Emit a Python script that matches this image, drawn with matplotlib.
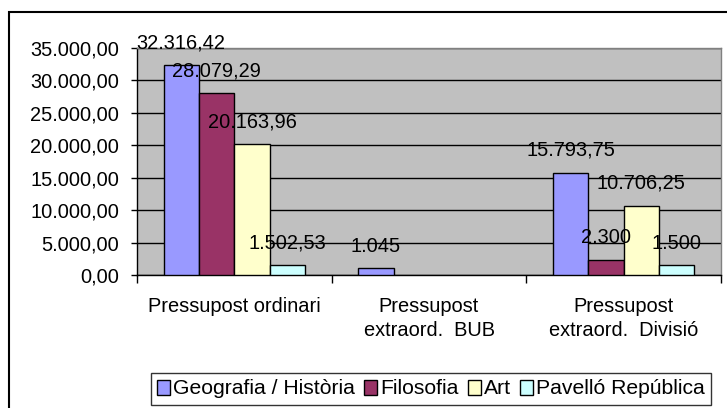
import matplotlib.pyplot as plt
import numpy as np
from matplotlib.patches import Patch, Rectangle

plt.rcParams["font.family"] = ["Liberation Sans", "DejaVu Sans"]

categories = ["Pressupost ordinari", "Pressupost\nextraord.  BUB", "Pressupost\nextraord.  Divisió"]
series = ["Geografia / Història", "Filosofia", "Art", "Pavelló República"]
geografia = [32316.42, 1045, 15793.75]
filosofia = [28079.29, np.nan, 2300]
art = [20163.96, np.nan, 10706.25]
pavello = [1502.53, np.nan, 1500]
colors = ["#9999FF", "#993366", "#FFFFCC", "#CCFFFF"]
yticks = [0, 5000, 10000, 15000, 20000, 25000, 30000, 35000]


def es_num(v, dec=2):
    s = f"{v:,.{dec}f}"
    return s.replace(",", "X").replace(".", ",").replace("X", ".")


def label_text(v):
    if float(v).is_integer():
        return es_num(v, 0)
    return es_num(v, 2)


W, H = 727, 408
fig = plt.figure(figsize=(W / 100, H / 100), dpi=100)
fig.patch.set_facecolor("white")

# outer chart frame (runs off right/bottom edge)
fig.patches.append(Rectangle((9 / W, -0.1), 1.1, 1 - 12 / H + 0.1, transform=fig.transFigure,
                             fill=False, edgecolor="black", linewidth=1.5))

ax = fig.add_axes([137 / W, (H - 275) / H, (721 - 137) / W, (275 - 48) / H])
ax.set_facecolor("#C0C0C0")

x = np.arange(len(categories))
bw = 1 / 5.5
data = [geografia, filosofia, art, pavello]
for i, (vals, c) in enumerate(zip(data, colors)):
    pos = x + (i - 1.5) * bw
    ax.bar(pos, vals, width=bw, color=c, edgecolor="black", linewidth=1, zorder=3)
    for px, v in zip(pos, vals):
        if np.isnan(v):
            continue
        ax.annotate(label_text(v), (px, v), xytext=(0, 16), textcoords="offset points",
                    ha="center", va="center", fontsize=14.4, zorder=4)

ax.set_xlim(-0.5, 2.5)
ax.set_ylim(0, 35000)
ax.set_yticks(yticks)
ax.set_yticklabels([es_num(t) for t in yticks])
ax.yaxis.grid(True, color="black", linewidth=1, zorder=1)
ax.set_axisbelow(True)

ax.set_xticks(x)
ax.set_xticklabels(categories, linespacing=1.35)
ax.set_xticks([-0.5, 0.5, 1.5, 2.5], minor=True)
ax.tick_params(axis="x", which="major", length=0, pad=16, labelsize=14.4)
ax.tick_params(axis="x", which="minor", length=6, width=1, direction="out")
ax.tick_params(axis="y", length=4.3, width=1, direction="out", pad=8.6, labelsize=14.4)

for s in ["top", "right"]:
    ax.spines[s].set_color("#808080")
ax.spines["left"].set_color("black")
ax.spines["bottom"].set_color("black")
for s in ax.spines.values():
    s.set_linewidth(1)

handles = [Patch(facecolor=c, edgecolor="black", linewidth=1) for c in colors]
leg = fig.legend(handles, series, loc="center", bbox_to_anchor=(431 / W, 1 - 389 / H),
                 ncol=4, fontsize=15.2, frameon=True, fancybox=False,
                 handlelength=0.6, handleheight=0.7, handletextpad=0.15,
                 columnspacing=0.45, borderpad=0.3, borderaxespad=0)
leg.get_frame().set_edgecolor("black")
leg.get_frame().set_linewidth(1)

fig.savefig("out.png", dpi=100)
